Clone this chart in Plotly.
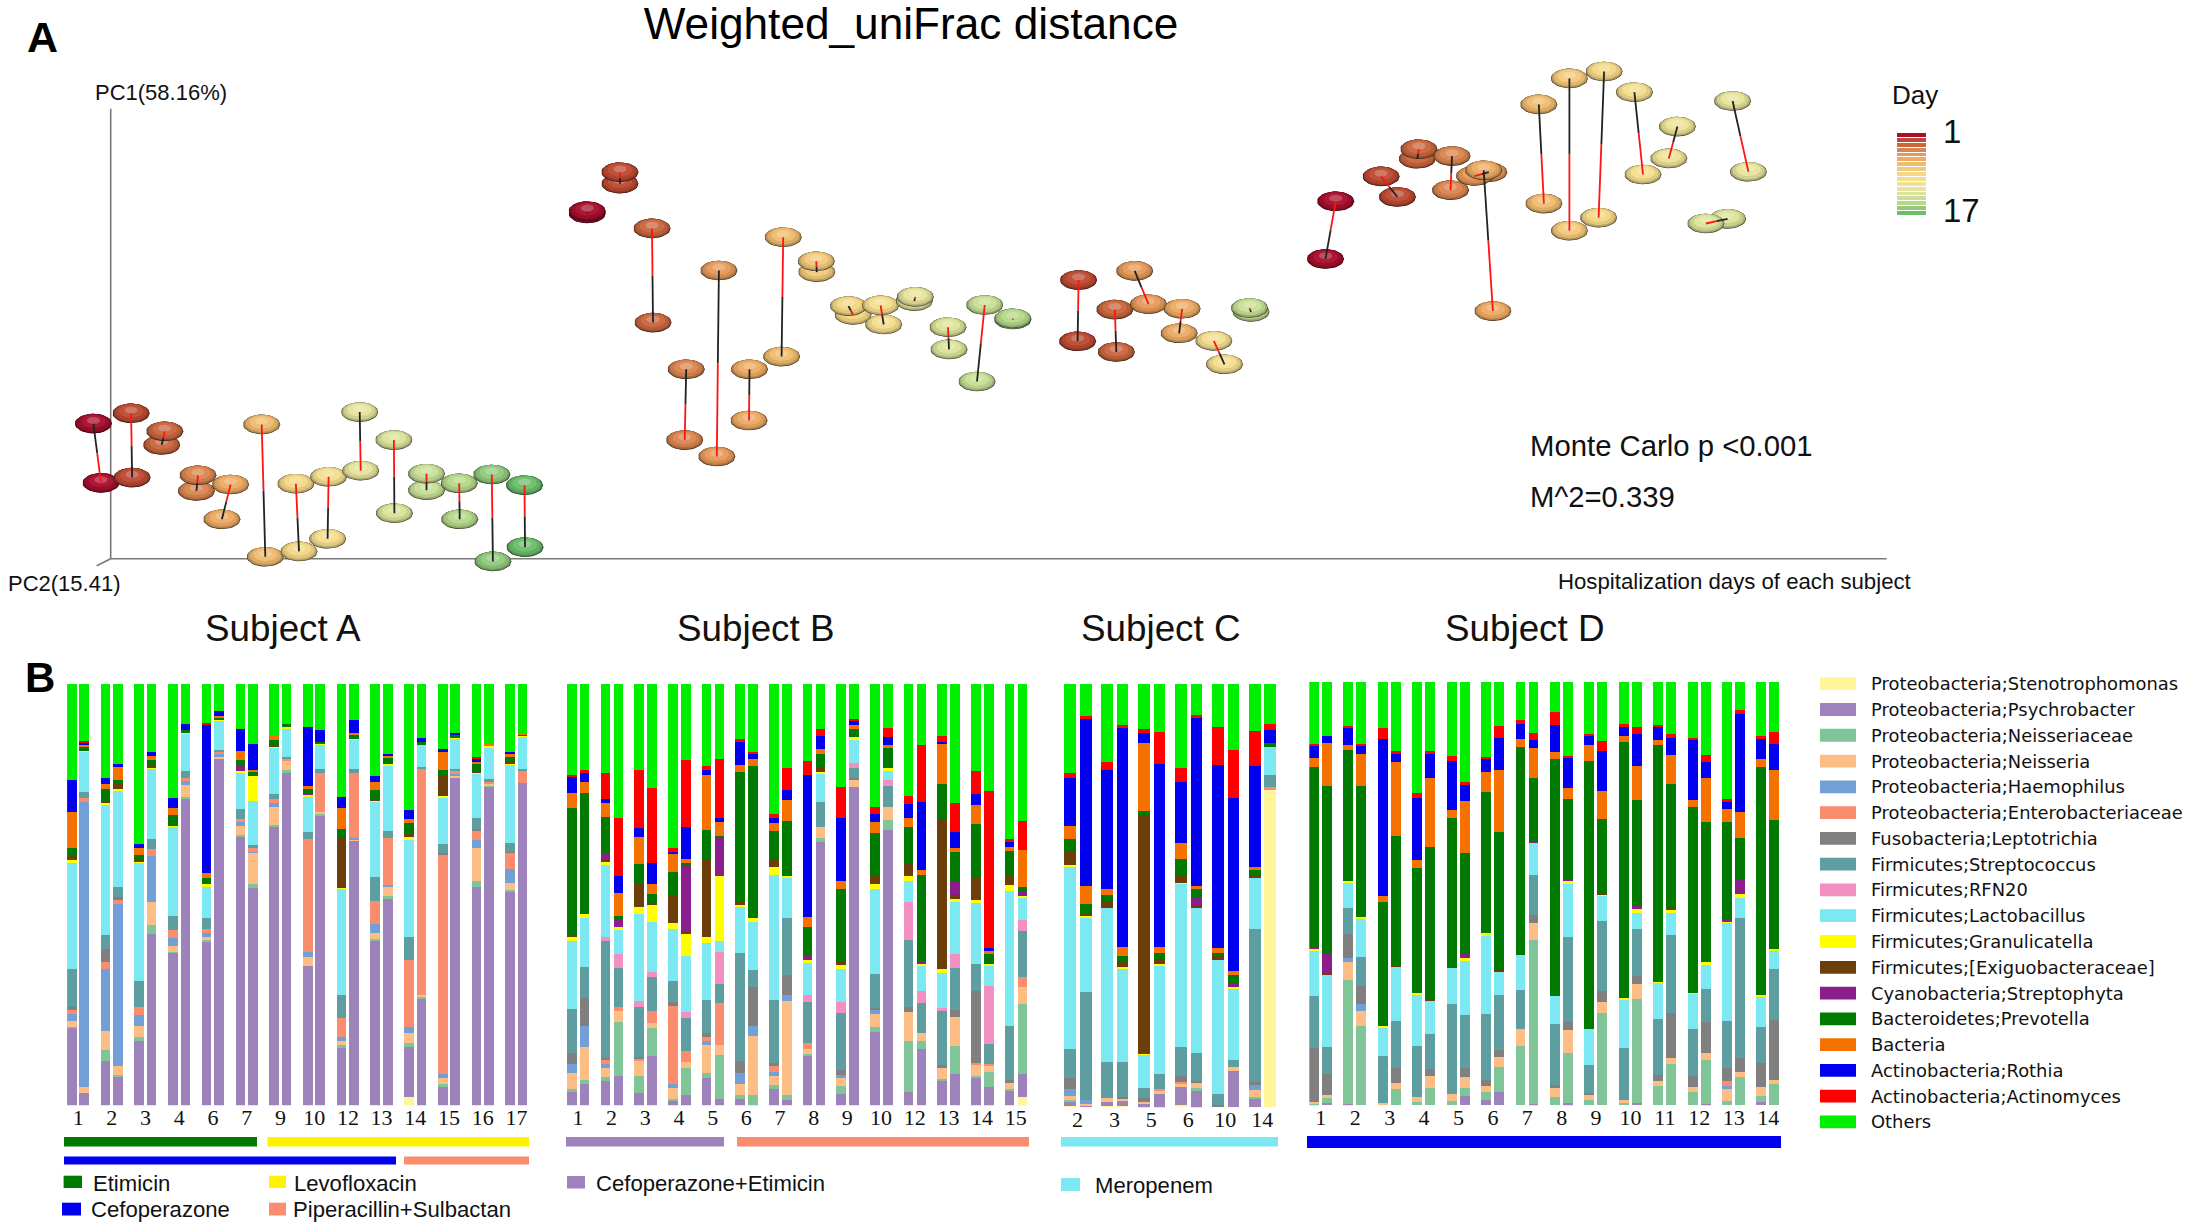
import numpy as np
import plotly.graph_objects as go

W, H = 2209, 1232
SANS = "Liberation Sans"
SERIF = "Liberation Serif"

# ---------- Panel B data: relative abundance ----------
taxa = ["Proteobacteria;Stenotrophomonas", "Proteobacteria;Psychrobacter", "Proteobacteria;Neisseriaceae",
        "Proteobacteria;Neisseria", "Proteobacteria;Haemophilus", "Proteobacteria;Enterobacteriaceae",
        "Fusobacteria;Leptotrichia", "Firmicutes;Streptococcus", "Firmicutes;RFN20", "Firmicutes;Lactobacillus",
        "Firmicutes;Granulicatella", "Firmicutes;[Exiguobacteraceae]", "Cyanobacteria;Streptophyta",
        "Bacteroidetes;Prevotella", "Bacteria", "Actinobacteria;Rothia", "Actinobacteria;Actinomyces", "Others"]
taxa_colors = ["#FFF59B", "#9E82BC", "#7FC598", "#FDBE85", "#729FD5", "#FB8D6F", "#808080", "#5F9EA0", "#F48FC1",
               "#7BE8F2", "#FFFF00", "#6B3E0A", "#8B1E8B", "#007A00", "#F57200", "#0000EE", "#FF0000", "#00EE00"]

days_a = [1, 2, 3, 4, 6, 7, 9, 10, 12, 13, 14, 15, 16, 17]
days_b = [1, 2, 3, 4, 5, 6, 7, 8, 9, 10, 12, 13, 14, 15]
days_c = [2, 3, 5, 6, 10, 14]
days_d = [1, 2, 3, 4, 5, 6, 7, 8, 9, 10, 11, 12, 13, 14]

subject_a = [
    [0,213,2,17,18,13,7,105,0,292,5,13,0,20,100,87,0,263], [0,33,0,17,782,11,0,17,0,110,2,0,0,13,5,5,5,155],
    [0,123,28,53,169,21,36,37,0,357,5,6,0,31,16,15,0,258], [0,77,6,24,444,13,6,30,0,262,4,16,0,10,36,7,0,220],
    [0,177,10,31,30,22,0,72,0,324,3,3,0,14,20,10,0,439], [0,471,24,63,127,17,0,27,0,194,2,5,0,16,11,11,0,187],
    [0,418,3,16,22,23,0,38,0,244,2,4,0,25,19,29,0,312], [0,840,5,32,12,8,0,19,0,102,4,0,0,8,0,16,0,109],
    [0,448,6,9,11,11,0,29,0,87,5,0,0,17,13,406,6,107], [0,950,2,4,6,6,0,6,0,81,2,0,0,5,4,14,0,75],
    [0,736,4,25,13,7,0,27,0,101,3,0,14,18,23,62,0,122], [0,595,11,86,4,9,0,8,0,121,68,0,0,14,4,71,0,164],
    [0,763,7,49,9,11,0,15,0,128,2,4,0,14,10,0,0,143], [0,912,8,23,0,9,0,4,0,78,3,0,0,9,0,0,0,109],
    [0,382,0,25,14,308,0,20,0,99,2,0,6,12,7,163,0,117], [0,795,5,4,0,108,0,10,0,67,3,0,0,3,0,33,0,127],
    [0,160,5,11,12,53,0,61,0,293,2,138,0,24,56,29,0,311], [0,725,0,4,4,177,0,13,0,79,3,0,0,9,7,36,0,98],
    [0,452,5,17,22,64,0,66,0,206,3,3,0,26,23,17,0,251], [0,567,7,25,5,128,0,19,0,180,5,0,0,17,5,6,0,191],
    [22,138,12,28,16,184,0,62,0,268,5,8,0,30,13,23,0,346], [0,294,5,5,0,620,0,4,0,62,1,0,0,5,0,12,0,148],
    [0,50,8,16,13,599,7,23,0,128,3,57,0,14,50,10,0,177], [0,899,0,4,5,9,0,5,0,83,2,0,0,8,0,7,0,133],
    [0,600,16,90,21,27,5,29,0,121,4,4,0,21,3,8,6,200], [0,874,4,4,0,5,0,7,0,86,4,0,0,0,7,0,0,164],
    [0,586,4,21,38,43,4,24,0,215,3,3,0,14,9,5,0,186], [0,885,0,0,0,31,0,6,0,89,2,0,0,4,5,0,0,133],
]
subject_b = [
    [0,36,10,43,26,0,29,121,0,185,12,6,0,347,40,45,6,249], [0,60,9,91,58,0,76,85,0,135,12,0,0,331,29,26,6,237],
    [0,66,13,25,9,11,6,322,10,196,9,8,18,97,39,11,72,243], [0,80,149,29,0,12,0,107,39,66,6,0,22,9,62,47,160,367],
    [0,34,48,40,0,8,4,135,16,240,19,63,0,56,72,26,159,235], [0,136,77,12,0,35,0,91,16,135,47,6,0,24,27,58,205,286],
    [0,14,3,30,11,215,11,57,0,143,17,77,0,61,49,7,10,450], [0,28,74,17,0,30,0,92,16,152,61,8,177,9,11,89,183,208],
    [0,75,13,77,12,11,10,90,0,158,16,213,0,80,151,14,10,225], [0,18,120,28,0,114,0,52,88,32,176,0,104,7,38,12,161,205],
    [0,18,10,32,30,0,31,296,0,127,6,10,0,355,18,63,9,150], [0,0,28,162,28,0,106,48,0,130,12,0,0,416,20,14,5,186],
    [0,44,11,26,11,16,8,172,0,345,21,21,0,77,23,12,12,356], [0,16,14,255,17,0,55,157,0,109,7,0,0,150,56,29,59,231],
    [0,135,7,14,0,16,0,112,18,89,7,0,14,77,28,388,39,211], [0,723,9,30,0,0,0,70,0,76,7,10,0,37,15,36,18,124],
    [0,32,21,21,10,0,14,156,30,91,9,13,0,197,22,171,85,283], [0,874,0,17,0,0,6,28,14,63,8,0,0,22,10,11,6,96],
    [0,201,15,36,9,0,6,92,0,235,13,21,0,118,32,21,18,338], [0,754,29,34,0,0,0,58,18,26,5,0,0,58,5,22,26,120],
    [0,38,138,81,0,0,13,183,105,58,12,37,0,97,27,37,22,307], [0,156,22,20,0,0,0,82,34,70,4,0,8,236,14,185,158,166],
    [0,66,6,32,0,0,8,148,8,95,12,411,0,95,109,7,16,142], [0,85,79,78,0,0,21,113,39,142,8,13,35,81,12,44,79,326],
    [0,78,4,28,0,6,197,75,0,169,6,62,0,149,51,29,64,239], [0,50,42,18,0,5,0,55,158,56,4,0,0,29,7,7,433,293],
    [0,39,7,15,0,0,8,150,0,369,17,26,0,67,12,16,5,426], [24,63,191,46,0,30,0,126,28,62,6,0,11,14,101,0,78,377],
]
subject_c = [
    [4,10,6,11,21,0,28,81,0,501,4,34,0,35,36,133,14,243], [2,2,0,6,11,0,0,295,0,205,3,9,0,25,48,460,7,88],
    [4,10,0,12,0,0,0,100,0,420,0,20,0,17,16,325,22,215], [4,14,0,6,0,0,5,96,0,257,2,14,0,18,23,602,7,113],
    [0,10,0,6,0,0,10,27,0,91,3,651,0,16,184,29,12,122], [0,38,0,8,0,4,0,42,0,299,2,15,0,16,16,504,86,133],
    [6,50,0,10,0,5,15,81,0,446,3,22,0,42,45,167,38,231], [0,46,8,14,0,0,5,76,0,398,0,7,19,27,8,459,10,84],
    [2,0,0,0,0,0,6,30,0,367,0,9,0,10,12,504,102,119], [2,97,0,12,0,0,0,20,0,195,4,0,12,21,12,473,131,182],
    [2,20,8,18,15,0,6,421,0,141,0,5,0,14,9,278,94,130], [873,0,0,0,0,7,0,32,0,79,0,0,0,11,0,35,15,111],
]
subject_d = [
    [0,0,2,6,0,0,150,141,0,126,5,0,5,493,23,34,5,170], [0,6,14,8,0,0,57,75,0,199,0,3,52,461,119,17,0,149],
    [0,2,342,49,10,0,65,72,0,71,3,0,0,360,13,46,7,120], [0,0,217,42,19,0,48,79,0,107,3,0,0,360,89,20,6,170],
    [0,0,0,7,0,0,0,128,0,79,2,0,0,341,16,430,30,127], [0,0,44,18,0,0,41,127,0,149,0,4,0,354,203,22,8,190],
    [0,0,8,14,0,0,0,140,0,142,4,0,0,342,22,170,13,305], [0,0,46,34,0,0,20,94,0,94,0,4,0,415,190,65,10,188],
    [0,0,11,19,0,0,0,248,0,97,0,0,0,412,21,136,13,203], [0,25,21,30,0,0,25,146,0,149,8,0,10,278,142,44,9,273],
    [0,14,21,19,0,0,15,180,0,216,8,0,0,386,53,36,7,205], [0,37,67,28,0,0,18,152,0,62,0,10,0,376,168,88,34,120],
    [0,0,162,48,0,0,0,105,0,96,0,0,0,572,20,42,10,105], [0,3,450,47,0,0,21,111,0,86,0,0,7,173,81,22,20,139],
    [0,0,23,23,0,0,9,167,0,77,0,0,0,649,20,75,36,81], [0,5,138,64,0,0,22,232,0,148,5,0,7,218,31,82,6,202],
    [0,0,13,15,0,0,6,77,0,98,0,0,0,735,43,25,6,142], [0,0,253,29,0,0,30,193,0,69,4,5,0,201,78,109,28,161],
    [0,0,7,6,0,0,0,143,0,135,3,0,0,702,16,24,9,115], [0,7,284,40,0,0,22,129,0,46,9,0,9,291,94,87,19,123],
    [0,0,54,11,0,0,17,154,0,99,2,0,0,651,13,35,7,117], [0,0,112,18,0,0,124,212,0,61,10,3,0,341,78,47,12,142],
    [0,0,36,13,0,0,30,131,0,96,2,0,0,509,19,165,6,153], [0,4,121,19,0,0,84,90,0,69,5,0,0,384,122,43,18,201],
    [0,0,11,34,7,15,36,127,0,270,3,0,6,267,36,21,5,322], [0,0,77,13,0,0,39,383,0,56,10,0,42,113,70,268,12,77],
    [0,8,18,24,0,0,67,98,0,84,3,0,0,625,22,54,8,149], [0,0,58,12,0,0,164,140,0,49,6,0,0,354,136,72,32,137],
]

# ---------- Panel A data: ordination scores, paired samples per day ----------
pc_days_a = [1, 2, 3, 4, 6, 7, 9, 10, 12, 13, 14, 15, 16, 17]
pc_axis_a1 = [-17.3, 20.4, 54.1, 87.3, 119.9, 151, 185.2, 217.9, 249, 283.2, 315.8, 348.5, 381.1, 413.8]
pc1_a1 = [135.1, 145.4, 127.4, 83.4, 74.2, 134.3, 75, 81.9, 146.6, 118.6, 85, 75.4, 84.2, 73.5]
pc_axis_a2 = [-9.7, 21.4, 51, 85.7, 111.2, 154.6, 188.3, 216.9, 250, 283.7, 315.8, 349, 382.2, 414.3]
pc1_a2 = [75.8, 81.1, 113.7, 67.7, 39.4, 1.9, 7.3, 19.9, 88, 45.5, 68.5, 39.4, -2.7, 11.5]
red_top_a = [0, 1, 1, 1, 1, 1, 1, 1, 0, 1, 1, 1, 1, 1]

pc_days_b = [1, 2, 3, 4, 5, 6, 7, 8, 9, 10, 12, 13, 14, 15]
pc_axis_b1 = [476.5, 509.2, 541.3, 575.5, 608.2, 638.8, 672.5, 705.6, 737.8, 769.9, 804.6, 837.3, 874, 902.1]
pc1_b1 = [347.5, 386.5, 330.3, 189.4, 288.2, 189.4, 321.5, 297.4, 252.6, 253.3, 261.8, 231.5, 253.7, 240.3]
pc_axis_b2 = [476.5, 509.2, 542.3, 574, 606.1, 638.3, 670.9, 706.1, 742.4, 773, 803.6, 838.3, 866.3, 902.1]
pc1_b2 = [345.2, 375, 236.1, 118.6, 102.2, 138.2, 202.1, 286.6, 243.8, 234.2, 257.6, 209.3, 177.2, 239.2]
red_top_b = [1, 1, 1, 0, 0, 0, 1, 1, 0, 1, 1, 1, 1, 1]

pc_days_c = [2, 3, 5, 6, 10, 14]
pc_axis_c1 = [967.9, 1004.1, 1024, 1071.4, 1103.1, 1138.8]
pc1_c1 = [278.6, 249.1, 287.8, 249.9, 217.8, 250.7]
pc_axis_c2 = [966.9, 1005.6, 1037.8, 1068.4, 1113.8, 1140.3]
pc1_c2 = [217.4, 206.7, 254.5, 225.4, 194.4, 246.8]
red_top_c = [1, 1, 0, 1, 1, 1]

pc_days_d = [1, 2, 3, 4, 5, 6, 7, 8, 9, 10, 11, 12, 13]
pc_axis_d1 = [1225, 1270.4, 1308.2, 1341.3, 1363.8, 1373, 1428.1, 1458.7, 1493.4, 1523.7, 1566.7, 1621.9, 1595.2]
pc1_d1 = [357.4, 382.3, 409.5, 402.6, 382.7, 388.4, 454.3, 480.3, 487.2, 466.5, 432.1, 457.7, 335.2]
pc_axis_d2 = [1214.8, 1286.7, 1306.6, 1339.8, 1378.1, 1382.2, 1433.2, 1458.7, 1487.9, 1532.3, 1558.1, 1637.7, 1616.9]
pc1_d2 = [299.7, 361.7, 399.9, 368.5, 386.5, 247.6, 355.1, 328, 341, 384.2, 400.3, 386.9, 339.8]
red_top_d = [1, 1, 1, 0, 1, 0, 0, 0, 0, 0, 0, 0, 1]

day_scale = list(range(1, 18))
day_colors = ["#A80F2D", "#BE4A32", "#C9673F", "#DB8650", "#E69A5A", "#EDAB64", "#F0BC6F", "#F3CA7C", "#F5D887",
              "#F4DE8E", "#EEE296", "#E6E49C", "#DBE39A", "#C9DF95", "#B5D98B", "#92CB7D", "#6CBF6B"]

# ---------- page helpers ----------
def px(x):
    return x / W

def py(y):
    return 1 - y / H

def rgb(hexcol):
    return np.array([int(hexcol[i:i + 2], 16) for i in (1, 3, 5)], float)

def tint(hexcol, factor, lift=0.0):
    c = rgb(hexcol) * factor
    c = c + (255 - c) * lift
    return "rgb(%d,%d,%d)" % tuple(np.clip(c, 0, 255))

fig = go.Figure()

# ---------- Panel A ----------
ORIGIN_X, ORIGIN_Y, PANEL_H = 110.7, 558.7, 600
axes_line = dict(color="#7a7a7a", width=1.6)
fig.add_trace(go.Scatter(x=[0, 0], y=[450, 0], mode="lines", line=axes_line, xaxis="x", yaxis="y",
                         showlegend=False, hoverinfo="skip"))
fig.add_trace(go.Scatter(x=[0, 1776], y=[0, 0], mode="lines", line=axes_line, xaxis="x", yaxis="y",
                         showlegend=False, hoverinfo="skip"))
fig.add_trace(go.Scatter(x=[-14, 0], y=[-7, 0], mode="lines", line=axes_line, xaxis="x", yaxis="y",
                         showlegend=False, hoverinfo="skip"))

theta = np.linspace(0, 2 * np.pi, 33)
RX, RY = 18.5, 9.8
# (scale, upward shift in radii, brightness, lift)
layers = [(1.0, 0.0, 0.25, 0.0), (0.985, 0.015, 0.55, 0.0), (0.95, 0.05, 0.78, 0.0),
          (0.86, 0.12, 0.92, 0.0), (0.66, 0.22, 1.0, 0.04), (0.36, 0.32, 1.0, 0.26)]

def ellipse(cx, cy, day):
    col = day_colors[day - 1]
    for s, up, f, lift in layers:
        fig.add_trace(go.Scatter(x=cx + s * RX * np.cos(theta), y=cy + up * RY + s * RY * np.sin(theta),
                                 mode="lines", fill="toself", fillcolor=tint(col, f, lift),
                                 line=dict(width=0), xaxis="x", yaxis="y", showlegend=False, hoverinfo="skip"))

groups = [(pc_days_a, pc_axis_a1, pc1_a1, pc_axis_a2, pc1_a2, red_top_a),
          (pc_days_b, pc_axis_b1, pc1_b1, pc_axis_b2, pc1_b2, red_top_b),
          (pc_days_c, pc_axis_c1, pc1_c1, pc_axis_c2, pc1_c2, red_top_c),
          (pc_days_d, pc_axis_d1, pc1_d1, pc_axis_d2, pc1_d2, red_top_d)]
for days, x1, y1, x2, y2, _ in groups:
    for d, a, b, c, e in zip(days, x1, y1, x2, y2):
        ellipse(c, e, d)
        ellipse(a, b, d)
for days, x1, y1, x2, y2, red in groups:
    for a, b, c, e, r in zip(x1, y1, x2, y2, red):
        mx, my = (a + c) / 2, (b + e) / 2
        fig.add_trace(go.Scatter(x=[a, mx], y=[b, my], mode="lines",
                                 line=dict(color="#FF1414" if r else "#222222", width=1.8),
                                 xaxis="x", yaxis="y", showlegend=False, hoverinfo="skip"))
        fig.add_trace(go.Scatter(x=[mx, c], y=[my, e], mode="lines",
                                 line=dict(color="#222222" if r else "#FF1414", width=1.8),
                                 xaxis="x", yaxis="y", showlegend=False, hoverinfo="skip"))

# Day colour key
fig.add_trace(go.Heatmap(z=[[d] for d in day_scale], x=[0], y=day_scale, zmin=1, zmax=17,
                         colorscale=[[i / 16, c] for i, c in enumerate(day_colors)], showscale=False,
                         ygap=1, xaxis="x6", yaxis="y6", hoverinfo="skip"))

# ---------- Panel B ----------
panels = [
    dict(name="x2", yname="y2", rows=subject_a, days=days_a, left=67.1, right=527.5, top=683.7, bottom=1105.2, w=0.285, off=0.369),
    dict(name="x3", yname="y3", rows=subject_b, days=days_b, left=566.7, right=1027.0, top=683.7, bottom=1105.2, w=0.283, off=0.384),
    dict(name="x4", yname="y4", rows=subject_c, days=days_c, left=1063.7, right=1276.0, top=683.7, bottom=1107.2, w=0.32, off=0.424),
    dict(name="x5", yname="y5", rows=subject_d, days=days_d, left=1309.3, right=1779.7, top=682.0, bottom=1105.2, w=0.29, off=0.378),
]
axes_layout = {}
for p in panels:
    n = len(p["days"])
    xs = [i + o for i in range(n) for o in (0, p["off"])]
    rows = np.array(p["rows"], float)
    for j, (t, col) in enumerate(zip(taxa, taxa_colors)):
        fig.add_trace(go.Bar(x=xs, y=rows[:, j], width=p["w"], name=t, marker=dict(color=col, line=dict(width=0)),
                             xaxis=p["name"], yaxis=p["yname"], showlegend=False,
                             hovertemplate=t + ": %{y:.1f}%<extra></extra>"))
    key_x = "xaxis" + p["name"][1:]
    key_y = "yaxis" + p["yname"][1:]
    axes_layout[key_x] = dict(domain=[px(p["left"]), px(p["right"])],
                              range=[-p["w"] / 2, n - 1 + p["off"] + p["w"] / 2],
                              tickvals=[i + p["off"] / 2 for i in range(n)], ticktext=[str(d) for d in p["days"]],
                              tickfont=dict(family=SERIF, size=22, color="#111111"), ticks="",
                              ticklabelstandoff=-3, showgrid=False, zeroline=False, showline=False,
                              anchor=p["yname"])
    axes_layout[key_y] = dict(domain=[py(p["bottom"]), py(p["top"])], range=[0, 100], visible=False,
                              anchor=p["name"])

# ---------- shapes and texts placed on the page ----------
shapes = []
annots = []

def rect(x0, y0, x1, y1, color):
    shapes.append(dict(type="rect", xref="paper", yref="paper", x0=px(x0), x1=px(x1), y0=py(y1), y1=py(y0),
                       fillcolor=color, line=dict(width=0), layer="above"))

def text(x, y, s, size, anchor="left", family=SANS, bold=False, color="#111111"):
    annots.append(dict(xref="paper", yref="paper", x=px(x), y=py(y), text="<b>%s</b>" % s if bold else s,
                       showarrow=False, xanchor=anchor, yanchor="middle", borderpad=0, borderwidth=0,
                       font=dict(family=family, size=size, color=color)))

GREEN, YELLOW, BLUE, SALMON, PURPLE, CYAN = "#007A00", "#FFF200", "#0000EE", "#FB8D6F", "#9E82BC", "#7BE8F2"
# treatment bands
rect(64, 1137, 257, 1146.5, GREEN)
rect(267.5, 1137, 529, 1146.5, YELLOW)
rect(64, 1156.4, 396, 1164.4, BLUE)
rect(404, 1156.4, 529, 1164.4, SALMON)
rect(566, 1137, 724, 1146.5, PURPLE)
rect(737, 1137, 1029, 1146.5, SALMON)
rect(1061, 1137, 1278, 1146.5, CYAN)
rect(1307, 1136, 1781, 1148, BLUE)
# treatment key
rect(63.6, 1175.7, 82, 1188, GREEN)
text(92.9, 1183, "Etimicin", 22.1)
rect(269, 1175.7, 286, 1188, YELLOW)
text(294, 1183, "Levofloxacin", 22.1)
rect(62, 1202.7, 81, 1215.5, BLUE)
text(91, 1209, "Cefoperazone", 22.1)
rect(269, 1202.7, 286, 1215.5, SALMON)
text(293, 1209, "Piperacillin+Sulbactan", 22.1)
rect(567, 1176, 585, 1188.5, PURPLE)
text(596, 1183, "Cefoperazone+Etimicin", 22.1)
rect(1061, 1178, 1080, 1191, CYAN)
text(1095, 1185, "Meropenem", 22.1)

# taxa key
for i, (t, col) in enumerate(zip(taxa, taxa_colors)):
    yc = 683.7 + i * 25.78
    rect(1820, yc - 6.4, 1856, yc + 6.4, col)
    text(1871, yc, t, 17.9, family="DejaVu Sans")

# subject headings
for xc, label in zip([283, 756, 1161, 1525], ["Subject A", "Subject B", "Subject C", "Subject D"]):
    text(xc, 628, label, 36.8, anchor="center")

# panel A texts
text(42, 37, "A", 43, anchor="center", bold=True, color="#000000")
text(40, 677, "B", 42, anchor="center", bold=True, color="#000000")
text(95, 92, "PC1(58.16%)", 22)
text(8, 583, "PC2(15.41)", 22)
text(1558, 581, "Hospitalization days of each subject", 22.2)
text(1530, 445, "Monte Carlo p &lt;0.001", 29.3)
text(1530, 497, "M^2=0.339", 29.3)
text(1892, 95, "Day", 26)
text(1943, 132, "1", 33)
text(1943, 211, "17", 33)

layout = dict(
    width=W, height=H, margin=dict(l=0, r=0, t=0, b=0, autoexpand=False), paper_bgcolor="white", plot_bgcolor="white",
    autosize=False, barmode="stack", barnorm="percent", bargap=0, showlegend=False,
    title=dict(text="Weighted_uniFrac distance", x=px(911), y=py(24), xanchor="center", yanchor="middle",
               font=dict(family=SANS, size=44.2, color="#000000")),
    xaxis=dict(domain=[0, 1], range=[-ORIGIN_X, W - ORIGIN_X], visible=False, anchor="y"),
    yaxis=dict(domain=[py(PANEL_H), 1], range=[ORIGIN_Y - PANEL_H, ORIGIN_Y], visible=False, anchor="x"),
    xaxis6=dict(domain=[px(1897), px(1926)], visible=False, anchor="y6"),
    yaxis6=dict(domain=[py(216), py(133)], range=[17.5, 0.5], visible=False, anchor="x6"),
    shapes=shapes, annotations=annots, hovermode="closest",
)
layout.update(axes_layout)
fig.update_layout(**layout)

fig.write_html("out.html", config={"displayModeBar": False},
               post_script="document.body.style.margin='0';document.body.style.overflow='hidden';")
